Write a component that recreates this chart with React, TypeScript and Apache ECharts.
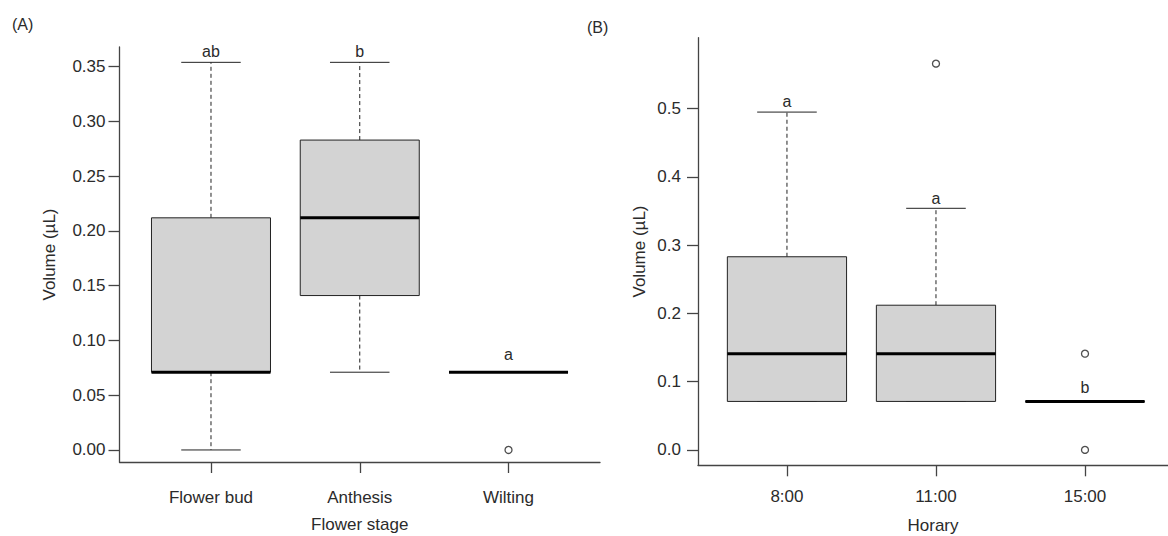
import React, { useEffect, useRef } from "react";
import * as echarts from "echarts";

// ---------- Panel A: flower stage ----------
const stageCats = ["Flower bud", "Anthesis", "Wilting"];
const stageMin = [0, 0.071, 0.071];
const stageQ1 = [0.071, 0.141, 0.071];
const stageMedian = [0.071, 0.212, 0.071];
const stageQ3 = [0.212, 0.283, 0.071];
const stageMax = [0.354, 0.354, 0.071];
const stageOutliers: [number, number][] = [[3, 0]];
const stageLetters = ["ab", "b", "a"];
const stageLetterY = [0.364, 0.364, 0.087];
const stageTicks = [0, 0.05, 0.1, 0.15, 0.2, 0.25, 0.3, 0.35];

// ---------- Panel B: horary ----------
const hourCats = ["8:00", "11:00", "15:00"];
const hourMin = [0.071, 0.071, 0.071];
const hourQ1 = [0.071, 0.071, 0.071];
const hourMedian = [0.141, 0.141, 0.071];
const hourQ3 = [0.283, 0.212, 0.071];
const hourMax = [0.495, 0.354, 0.071];
const hourOutliers: [number, number][] = [[2, 0.566], [3, 0.141], [3, 0]];
const hourLetters = ["a", "a", "b"];
const hourLetterY = [0.51, 0.369, 0.091];
const hourTicks = [0, 0.1, 0.2, 0.3, 0.4, 0.5];

const BOX_W = 0.8;
const CAP_W = 0.4;
const FONT = "'Liberation Sans', Arial, Helvetica, sans-serif";
const TXT = "#2b2b2b";
const AX = "#444";

function boxData(mn: number[], q1: number[], md: number[], q3: number[], mx: number[]) {
  return mn.map((_, i) => [i + 1, mn[i], q1[i], md[i], q3[i], mx[i]]);
}

function renderBox(params: any, api: any) {
  const x = api.value(0);
  const lo = api.coord([x, api.value(1)]);
  const q1 = api.coord([x, api.value(2)]);
  const med = api.coord([x, api.value(3)]);
  const q3 = api.coord([x, api.value(4)]);
  const hi = api.coord([x, api.value(5)]);
  const w = api.size([BOX_W, 0])[0];
  const cw = api.size([CAP_W, 0])[0];
  const cx = lo[0];
  const thin = { stroke: "#222", lineWidth: 1 };
  return {
    type: "group",
    children: [
      { type: "line", shape: { x1: cx, y1: q3[1], x2: cx, y2: hi[1] }, style: { ...thin, lineDash: [4, 3] } },
      { type: "line", shape: { x1: cx, y1: q1[1], x2: cx, y2: lo[1] }, style: { ...thin, lineDash: [4, 3] } },
      { type: "line", shape: { x1: cx - cw / 2, y1: hi[1], x2: cx + cw / 2, y2: hi[1] }, style: thin },
      { type: "line", shape: { x1: cx - cw / 2, y1: lo[1], x2: cx + cw / 2, y2: lo[1] }, style: thin },
      {
        type: "rect",
        shape: { x: cx - w / 2, y: q3[1], width: w, height: q1[1] - q3[1] },
        style: { fill: "#d3d3d3", stroke: "#222", lineWidth: 1 },
      },
      { type: "line", shape: { x1: cx - w / 2, y1: med[1], x2: cx + w / 2, y2: med[1] }, style: { stroke: "#000", lineWidth: 3 } },
    ],
  };
}

function renderLetter(params: any, api: any) {
  const p = api.coord([api.value(0), api.value(1)]);
  return {
    type: "text",
    x: p[0],
    y: p[1],
    style: {
      text: api.value(2),
      textAlign: "center",
      textVerticalAlign: "middle",
      fill: TXT,
      font: `16px ${FONT}`,
    },
  };
}

function xAxisCfg(gridIndex: number, min: number, max: number, cats: string[], name: string, labelMargin: number, nameGap: number) {
  return {
    type: "value",
    gridIndex,
    min,
    max,
    name,
    nameLocation: "middle",
    nameGap,
    nameTextStyle: { color: TXT, fontSize: 17, fontFamily: FONT },
    axisLine: { show: true, onZero: false, lineStyle: { color: AX, width: 1.3 } },
    axisTick: { show: true, customValues: [1, 2, 3], length: 11, lineStyle: { color: AX, width: 1.3 } },
    axisLabel: {
      customValues: [1, 2, 3],
      formatter: (v: number) => cats[Math.round(v) - 1] ?? "",
      color: TXT,
      fontSize: 17,
      fontFamily: FONT,
      margin: labelMargin,
    },
    splitLine: { show: false },
  };
}

function yAxisCfg(gridIndex: number, min: number, max: number, ticks: number[], digits: number, labelMargin: number, nameGap: number) {
  return {
    type: "value",
    gridIndex,
    min,
    max,
    name: "Volume (µL)",
    nameLocation: "middle",
    nameGap,
    nameTextStyle: { color: TXT, fontSize: 17, fontFamily: FONT },
    axisLine: { show: true, lineStyle: { color: AX, width: 1.3 } },
    axisTick: { show: true, customValues: ticks, length: 11, lineStyle: { color: AX, width: 1.3 } },
    axisLabel: {
      customValues: ticks,
      formatter: (v: number) => v.toFixed(digits),
      color: TXT,
      fontSize: 17,
      fontFamily: FONT,
      margin: labelMargin,
    },
    splitLine: { show: false },
  };
}

export default function App() {
  const ref = useRef<HTMLDivElement>(null);
  useEffect(() => {
    if (!ref.current) return;
    const chart = echarts.init(ref.current, undefined, { renderer: "svg" });
    const option: any = {
      animation: false,
      backgroundColor: "#ffffff",
      grid: [
        { left: 119.5, top: 47, width: 480.5, height: 415, outerBoundsMode: "none", containLabel: false },
        { left: 698, top: 37.7, width: 470, height: 427.6, outerBoundsMode: "none", containLabel: false },
      ],
      xAxis: [
        xAxisCfg(0, 0.385, 3.615, stageCats, "Flower stage", 27, 54),
        xAxisCfg(1, 0.403, 3.557, hourCats, "Horary", 23, 52),
      ],
      yAxis: [
        yAxisCfg(0, -0.011, 0.368, stageTicks, 2, 14, 62),
        yAxisCfg(1, -0.0226, 0.604, hourTicks, 1, 17, 50),
      ],
      graphic: [
        { type: "text", left: 12, top: 16, style: { text: "(A)", fill: TXT, font: `16px ${FONT}` } },
        { type: "text", left: 587, top: 19, style: { text: "(B)", fill: TXT, font: `16px ${FONT}` } },
      ],
      series: [
        {
          type: "custom",
          xAxisIndex: 0,
          yAxisIndex: 0,
          renderItem: renderBox,
          encode: { x: 0, y: [1, 2, 3, 4, 5] },
          data: boxData(stageMin, stageQ1, stageMedian, stageQ3, stageMax),
          clip: false,
        },
        {
          type: "custom",
          xAxisIndex: 1,
          yAxisIndex: 1,
          renderItem: renderBox,
          encode: { x: 0, y: [1, 2, 3, 4, 5] },
          data: boxData(hourMin, hourQ1, hourMedian, hourQ3, hourMax),
          clip: false,
        },
        {
          type: "scatter",
          xAxisIndex: 0,
          yAxisIndex: 0,
          symbol: "circle",
          symbolSize: 7,
          itemStyle: { color: "#fff", borderColor: "#222", borderWidth: 1.3 },
          data: stageOutliers,
        },
        {
          type: "scatter",
          xAxisIndex: 1,
          yAxisIndex: 1,
          symbol: "circle",
          symbolSize: 7,
          itemStyle: { color: "#fff", borderColor: "#222", borderWidth: 1.3 },
          data: hourOutliers,
        },
        {
          type: "custom",
          xAxisIndex: 0,
          yAxisIndex: 0,
          renderItem: renderLetter,
          encode: { x: 0, y: 1 },
          data: stageLetters.map((t, i) => [i + 1, stageLetterY[i], t]),
        },
        {
          type: "custom",
          xAxisIndex: 1,
          yAxisIndex: 1,
          renderItem: renderLetter,
          encode: { x: 0, y: 1 },
          data: hourLetters.map((t, i) => [i + 1, hourLetterY[i], t]),
        },
      ],
    };
    chart.setOption(option);
    return () => chart.dispose();
  }, []);
  return (
    <div
      ref={ref}
      style={{ position: "fixed", left: 0, top: 0, width: 1168, height: 536, background: "#fff" }}
    />
  );
}
